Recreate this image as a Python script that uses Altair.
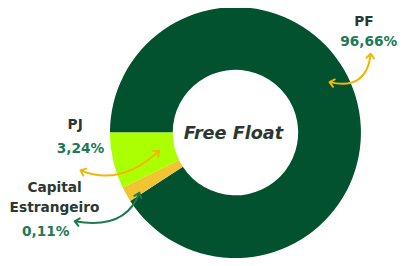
import math
import altair as alt
import pandas as pd

# ---- data ----
categories = ["PF", "Capital Estrangeiro", "PJ"]
label_pct = ["96,66%", "0,11%", "3,24%"]
slice_deg = [327, 7, 26]          # drawn angular size of each slice (degrees)
slice_colors = ["#02512f", "#f1c531", "#aaff00"]

# text annotations (plot px)
txt_text = ["PF", "96,66%", "PJ", "3,24%", "Capital\nEstrangeiro", "0,11%"]
txt_x = [363, 368, 68.5, 74, 47.5, 38.5]
txt_y = [12, 32, 117, 141.5, 181.5, 226]
txt_col = ["#2b3832", "#1d7a52", "#2b3832", "#1d7a52", "#2b3832", "#1d7a52"]

# curved arrows: start, control, end (plot px)
arrows = [
    ((328, 73), (366, 82), (370, 44), "#f2b705"),
    ((74, 163), (115, 180), (154, 143), "#f2b705"),
    ((68, 215), (120, 224), (134, 186), "#1d7a52"),
]

W, H = 407, 258
CX, CY = 232, 124.5
R_OUT, R_IN = 128, 64


def head(px, py, dx, dy, L=6.0, ang=40):
    n = math.hypot(dx, dy)
    ux, uy = dx / n, dy / n
    pts = []
    for s in (1, -1):
        a = math.radians(ang) * s
        rx = ux * math.cos(a) - uy * math.sin(a)
        ry = ux * math.sin(a) + uy * math.cos(a)
        pts.append((px + rx * L, py + ry * L))
    return f"M{pts[0][0]:.2f},{pts[0][1]:.2f}L{px:.2f},{py:.2f}L{pts[1][0]:.2f},{pts[1][1]:.2f}"


paths, pcols = [], []
for (p0, c, p1, col) in arrows:
    d = f"M{p0[0]},{p0[1]}Q{c[0]},{c[1]} {p1[0]},{p1[1]}"
    d += head(p0[0], p0[1], c[0] - p0[0], c[1] - p0[1])
    d += head(p1[0], p1[1], c[0] - p1[0], c[1] - p1[1])
    paths.append(d)
    pcols.append(col)

slices = pd.DataFrame({"cat": categories, "deg": slice_deg, "ord": [0, 1, 2], "pct": label_pct})
texts = pd.DataFrame({"t": txt_text, "x": txt_x, "y": txt_y, "c": txt_col})
arrow_df = pd.DataFrame({"shape": paths, "c": pcols, "x": [0] * len(paths), "y": [0] * len(paths)})

FONT = "DejaVu Sans"

arcs = alt.Chart(slices).mark_arc(outerRadius=R_OUT, innerRadius=R_IN, strokeWidth=0).encode(
    theta=alt.Theta("deg:Q", stack=True, scale=alt.Scale(range=[1.5 * math.pi, 3.5 * math.pi])),
    order=alt.Order("ord:Q"),
    color=alt.Color("cat:N", scale=alt.Scale(domain=categories, range=slice_colors), legend=None),
    x=alt.value(CX),
    y=alt.value(CY),
)

labels = alt.Chart(texts).mark_text(
    font=FONT, fontWeight="bold", fontSize=14, baseline="middle", align="center",
    lineBreak="\n", lineHeight=20.5,
).encode(
    x=alt.X("x:Q", scale=None, axis=None),
    y=alt.Y("y:Q", scale=None, axis=None),
    text="t:N",
    color=alt.Color("c:N", scale=None),
)

center = alt.Chart(pd.DataFrame({"t": ["Free Float"]})).mark_text(
    font=FONT, fontWeight="bold", fontStyle="italic", fontSize=18, color="#2b3832",
    baseline="middle", align="center", dx=-2, dy=1.5,
).encode(text="t:N", x=alt.value(CX), y=alt.value(CY))

arrow_layer = alt.Chart(arrow_df).mark_point(filled=False, opacity=1, strokeWidth=2, strokeCap="round", strokeJoin="round", size=4).encode(
    x=alt.X("x:Q", scale=None, axis=None),
    y=alt.Y("y:Q", scale=None, axis=None),
    shape=alt.Shape("shape:N", scale=None),
    color=alt.Color("c:N", scale=None),
)

chart = alt.layer(arcs, arrow_layer, labels, center).properties(
    width=W, height=H, padding=0, autosize=alt.AutoSizeParams(type="none")
).configure_view(stroke=None)

chart.save("out.html", embed_options={"renderer": "svg", "actions": False})
